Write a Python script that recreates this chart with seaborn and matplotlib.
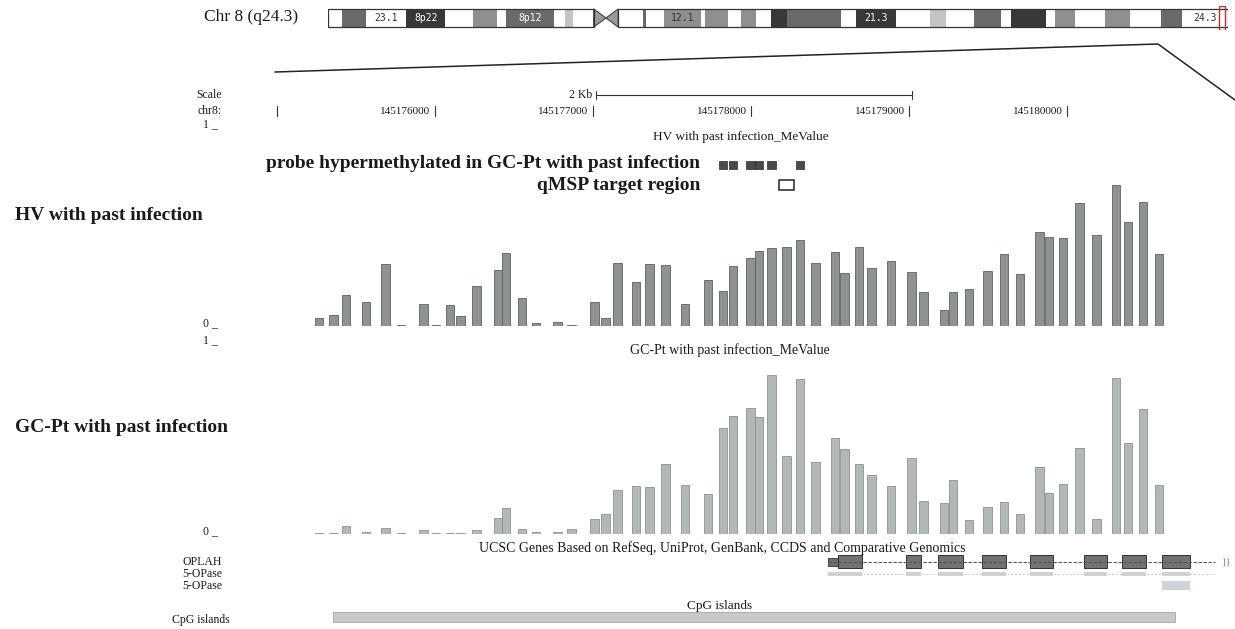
import matplotlib
matplotlib.use("Agg")
import matplotlib.pyplot as plt
from matplotlib.patches import Rectangle, Polygon
import seaborn as sns

# ---------------- data ----------------
# probe centres on chr8 (hg19) and mean M-values per group
probe_pos = [145175266, 145175358, 145175437, 145175563, 145175687, 145175785, 145175927,
             145176006, 145176095, 145176161, 145176263, 145176399, 145176449, 145176551,
             145176639, 145176775, 145176864, 145177009, 145177079, 145177155, 145177272,
             145177358, 145177459, 145177582, 145177728, 145177823, 145177886, 145177997,
             145178051, 145178130, 145178225, 145178310, 145178408, 145178532, 145178592,
             145178684, 145178763, 145178886, 145179016, 145179092, 145179222, 145179278,
             145179380, 145179497, 145179601, 145179703, 145179826, 145179886, 145179975,
             145180079, 145180187, 145180310, 145180386, 145180481, 145180582]
hv_mevalue = [0.037, 0.051, 0.148, 0.113, 0.295, 0.005, 0.106, 0.004, 0.098, 0.048,
              0.19, 0.267, 0.346, 0.133, 0.013, 0.02, 0.005, 0.113, 0.037, 0.298,
              0.21, 0.294, 0.289, 0.106, 0.218, 0.165, 0.284, 0.322, 0.357, 0.37,
              0.378, 0.41, 0.298, 0.354, 0.254, 0.376, 0.278, 0.311, 0.256, 0.162,
              0.075, 0.163, 0.175, 0.263, 0.341, 0.249, 0.446, 0.425, 0.419, 0.586,
              0.432, 0.671, 0.494, 0.592, 0.343]
gcpt_mevalue = [0.005, 0.005, 0.04, 0.01, 0.03, 0.005, 0.02, 0.005, 0.005, 0.005,
                0.02, 0.083, 0.135, 0.025, 0.008, 0.008, 0.025, 0.078, 0.106, 0.229,
                0.252, 0.243, 0.365, 0.254, 0.208, 0.551, 0.615, 0.658, 0.607, 0.828,
                0.405, 0.805, 0.375, 0.501, 0.441, 0.366, 0.306, 0.25, 0.397, 0.172,
                0.16, 0.281, 0.073, 0.142, 0.167, 0.104, 0.351, 0.215, 0.259, 0.45,
                0.08, 0.811, 0.472, 0.649, 0.257]
hyper_probe_ids = [26, 27, 28, 29, 30, 32]          # 1-based probe numbers
qmsp_region = [145178177, 145178272]

chr8_ticks = [145175000, 145176000, 145177000, 145178000, 145179000, 145180000]
chr8_tick_labels = ["", "145176000", "145177000", "145178000", "145179000", "145180000"]
scale_bar = [145177019, 145179019]

oplah_utr = [145178487, 145178550]
oplah_exon_start = [145178550, 145178981, 145179183, 145179462, 145179766, 145180108, 145180348, 145180601]
oplah_exon_end = [145178702, 145179076, 145179342, 145179614, 145179911, 145180253, 145180500, 145180778]
oplah_span = [145178487, 145180937]
opase2_exon = [145180601, 145180778]
cpg_island = [145175354, 145180684]

# chr8 cytobands (Mb)
band_start = [0.0, 2.2, 6.2, 12.7, 19.1, 23.5, 27.5, 29.0, 36.7, 38.5, 39.9, 43.2, 45.2,
              47.2, 51.3, 51.7, 54.6, 60.6, 61.3, 65.1, 67.1, 69.6, 72.0, 74.6, 74.7,
              83.5, 85.9, 92.3, 97.9, 100.5, 105.1, 109.5, 111.1, 116.7, 118.3, 121.5,
              126.3, 130.4, 135.4, 138.9]
band_end = band_start[1:] + [146.36]
band_stain = ["gneg", "gpos75", "gneg", "gpos100", "gneg", "gpos50", "gneg", "gpos75",
              "gneg", "gpos25", "gneg", "acen", "acen", "gneg", "gpos75", "gneg",
              "gpos50", "gneg", "gpos50", "gneg", "gpos50", "gneg", "gpos100", "gneg",
              "gpos75", "gneg", "gpos100", "gneg", "gpos25", "gneg", "gpos75", "gneg",
              "gpos100", "gneg", "gpos50", "gneg", "gpos50", "gneg", "gpos75", "gneg"]
band_label = {2: "23.1", 3: "8p22", 7: "8p12", 16: "12.1", 26: "21.3", 39: "24.3"}
view_pos_mb = 145.17

# ---------------- style ----------------
sns.set_theme(style="white")
plt.rcParams["font.family"] = ["Liberation Serif", "DejaVu Serif"]

W, H = 1235, 629
fig = plt.figure(figsize=(W / 100, H / 100), dpi=100)
fig.patch.set_facecolor("white")
view = (145173247, 145181063)

def px_axes(x0, y0, x1, y1, genomic=True, pixel_y=True):
    ax = fig.add_axes([x0 / W, 1 - y1 / H, (x1 - x0) / W, (y1 - y0) / H])
    ax.set_axis_off()
    ax.patch.set_alpha(0)
    if genomic:
        ax.set_xlim(*view)
    if pixel_y:
        ax.set_ylim(y1, y0)
    return ax

TXT = "#1a1a1a"

# overlay for free text
ov = px_axes(0, 0, W, H, genomic=False)
ov.set_xlim(0, W)

# ---------------- ideogram ----------------
ideo = px_axes(328, 6, 1228, 30, genomic=False, pixel_y=False)
ideo.set_xlim(0, 146.36)
ideo.set_ylim(0, 1)
shade = {"gneg": "#ffffff", "gpos25": "#c4c4c4", "gpos50": "#8f8f8f",
         "gpos75": "#6a6a6a", "gpos100": "#383838", "acen": "#9a9a9a"}
yb, yt = 0.12, 0.88
for i, (s, e, st) in enumerate(zip(band_start, band_end, band_stain)):
    if st == "acen":
        if i == 11:
            pts = [(s, yb), (s, yt), (e, 0.5)]
        else:
            pts = [(s, 0.5), (e, yt), (e, yb)]
        ideo.add_patch(Polygon(pts, closed=True, fc=shade[st], ec="#444", lw=0.8))
        continue
    ideo.add_patch(Rectangle((s, yb), e - s, yt - yb, fc=shade[st], ec="none"))
    if i in band_label:
        dark = st in ("gpos100", "gpos75")
        ideo.text((s + e) / 2, 0.5, band_label[i], ha="center", va="center",
                  fontsize=7, color="white" if dark else "#333",
                  family=["DejaVu Sans Mono"])
p_end, q_start = band_start[11], band_end[12]
ideo.add_patch(Rectangle((0, yb), p_end, yt - yb, fc="none", ec="#333", lw=0.9))
ideo.add_patch(Rectangle((q_start, yb), 146.36 - q_start, yt - yb, fc="none", ec="#333", lw=0.9))
ideo.add_patch(Rectangle((view_pos_mb - 0.25, 0.0), 0.9, 1.0, fc="none", ec="#c03030", lw=1.0))

ov.text(204, 17, "Chr 8 (q24.3)", fontsize=12.5, color=TXT, ha="left", va="center")
ov.plot([275, 1158, 1235], [72, 44, 100], color="#222", lw=1.1)

# ---------------- scale and coordinates ----------------
sc = px_axes(0, 84, W, 120)
sc.plot(scale_bar, [95, 95], color="#333", lw=0.8)
for x in scale_bar:
    sc.plot([x, x], [91, 99], color="#333", lw=0.8)
sc.text(scale_bar[0] - 25, 95, "2 Kb", fontsize=8.5, ha="right", va="center", color=TXT)
for t, lab in zip(chr8_ticks, chr8_tick_labels):
    sc.plot([t, t], [106, 116], color="#333", lw=0.8)
    if lab:
        sc.text(t - 28, 111, lab, fontsize=8, ha="right", va="center", color=TXT)

ov.text(222, 95, "Scale", fontsize=8.5, ha="right", va="center", color=TXT)
ov.text(222, 111, "chr8:", fontsize=8.5, ha="right", va="center", color=TXT)

# ---------------- annotations: probes and qMSP ----------------
ann = px_axes(0, 150, W, 195)
hyper_pos = [probe_pos[i - 1] for i in hyper_probe_ids]
ann.bar(hyper_pos, [8] * len(hyper_pos), width=52, bottom=161, color="#4a4a4a",
        edgecolor="#2a2a2a", linewidth=0.5)
ann.add_patch(Rectangle((qmsp_region[0], 180), qmsp_region[1] - qmsp_region[0], 10,
                        fc="white", ec="#222", lw=1.1))
ov.text(700, 164, "probe hypermethylated in GC-Pt with past infection", fontsize=14,
        fontweight="bold", ha="right", va="center", color=TXT)
ov.text(700, 186, "qMSP target region", fontsize=14, fontweight="bold",
        ha="right", va="center", color=TXT)

# ---------------- methylation tracks ----------------
hv_ax = px_axes(0, 116, W, 326, pixel_y=False)
hv_ax.set_ylim(0, 1)
hv_ax.bar(probe_pos, hv_mevalue, width=52, color="#8e9391", edgecolor="#5c605e",
          linewidth=0.6, align="center")

gc_ax = px_axes(0, 342, W, 534, pixel_y=False)
gc_ax.set_ylim(0, 1)
gc_ax.bar(probe_pos, gcpt_mevalue, width=52, color="#b2b8b5", edgecolor="#8d9390",
          linewidth=0.6, align="center")

ov.text(741, 137, "HV with past infection_MeValue", fontsize=9.5, ha="center",
        va="center", color=TXT)
ov.text(730, 350, "GC-Pt with past infection_MeValue", fontsize=10, ha="center",
        va="center", color=TXT)
for y, s in [(124, "1 _"), (323, "0 _"), (340, "1 _"), (531, "0 _")]:
    ov.text(218, y, s, fontsize=8.5, ha="right", va="center", color=TXT)
ov.text(15, 215, "HV with past infection", fontsize=14, fontweight="bold",
        ha="left", va="center", color=TXT)
ov.text(15, 428, "GC-Pt with past infection", fontsize=14, fontweight="bold",
        ha="left", va="center", color=TXT)

# ---------------- gene models ----------------
gn = px_axes(0, 540, W, 600)
gn.plot(oplah_span, [562, 562], color="#555", lw=0.8, ls=(0, (3, 1.5)))
gn.add_patch(Rectangle((oplah_utr[0], 558), oplah_utr[1] - oplah_utr[0], 8,
                       fc="#6d6d6d", ec="#333", lw=0.6))
for s, e in zip(oplah_exon_start, oplah_exon_end):
    gn.add_patch(Rectangle((s, 555), e - s, 13, fc="#727272", ec="#333", lw=0.7))
gn.plot(oplah_span, [574, 574], color="#c8c8c8", lw=0.7, ls=(0, (2, 2)))
for s, e in zip([oplah_utr[0]] + oplah_exon_start, [oplah_utr[1]] + oplah_exon_end):
    gn.add_patch(Rectangle((s, 572), e - s, 4, fc="#d2d2d2", ec="none"))
gn.add_patch(Rectangle((opase2_exon[0], 581), opase2_exon[1] - opase2_exon[0], 9,
                       fc="#cfd4dc", ec="none"))
ov.text(1226, 562, "}}", fontsize=7, color="#777", ha="center", va="center")

ov.text(722, 548, "UCSC Genes Based on RefSeq, UniProt, GenBank, CCDS and Comparative Genomics",
        fontsize=10, ha="center", va="center", color=TXT)
for y, s in [(562, "OPLAH"), (574, "5-OPase"), (586, "5-OPase")]:
    ov.text(222, y, s, fontsize=8.5, ha="right", va="center", color=TXT)

# ---------------- CpG islands ----------------
cg = px_axes(0, 600, W, 629)
cg.add_patch(Rectangle((cpg_island[0], 612), cpg_island[1] - cpg_island[0], 10,
                       fc="#c9c9c9", ec="#a5a5a5", lw=0.6))
ov.text(720, 606, "CpG islands", fontsize=9.5, ha="center", va="center", color=TXT)
ov.text(230, 620, "CpG islands", fontsize=8.5, ha="right", va="center", color=TXT)

fig.savefig("out.png", dpi=100, facecolor="white")
